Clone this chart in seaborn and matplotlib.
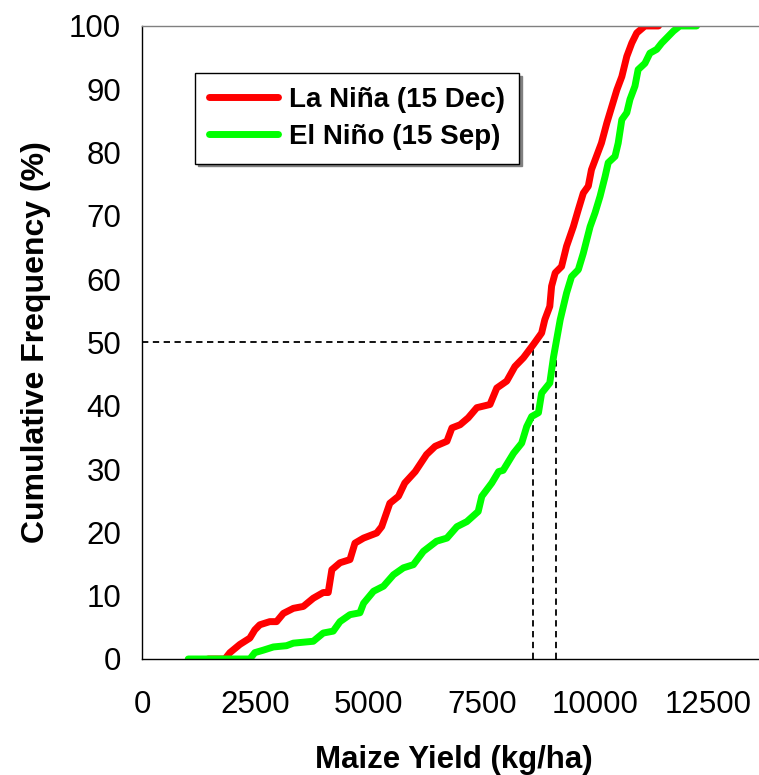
import pandas as pd
import matplotlib
matplotlib.use("Agg")
import matplotlib.pyplot as plt
import seaborn as sns

# --- datos ---
nina_label = "La Niña (15 Dec)"
nino_label = "El Niño (15 Sep)"

nina_yield = [1460, 1830, 1940, 2160, 2380, 2490, 2600, 2820, 2970, 3120, 3340, 3560,
              3780, 4000, 4110, 4190, 4370, 4590, 4700, 4890, 5180, 5290, 5470, 5660,
              5800, 6030, 6280, 6470, 6730, 6840, 7020, 7200, 7390, 7680, 7830, 8050,
              8230, 8420, 8640, 8820, 8890, 9000, 9040, 9120, 9260, 9370, 9520, 9630,
              9740, 9850, 9920, 10030, 10140, 10260, 10370, 10480, 10590, 10700, 10810,
              10920, 11100, 11400]
nina_freq = [0, 0, 1.0, 2.3, 3.3, 4.6, 5.4, 5.9, 5.9, 7.2, 8.0, 8.3,
             9.6, 10.5, 10.5, 14.1, 15.2, 15.7, 18.3, 19.1, 19.9, 20.9, 24.6, 25.7,
             27.8, 29.6, 32.3, 33.6, 34.4, 36.5, 37.0, 38.1, 39.7, 40.2, 42.8, 43.9,
             46.2, 47.6, 49.7, 51.5, 53.6, 55.7, 58.9, 61.0, 62.0, 65.2, 68.3, 71.0,
             73.6, 74.7, 77.3, 79.4, 81.5, 84.7, 87.3, 89.9, 92.0, 95.2, 97.3,
             98.9, 100, 100]

nino_yield = [1020, 2380, 2490, 2680, 2900, 3190, 3340, 3780, 4000, 4220, 4370, 4590,
              4810, 4890, 5110, 5330, 5550, 5770, 5990, 6210, 6500, 6730, 6950, 7170,
              7420, 7500, 7720, 7870, 7970, 8200, 8380, 8490, 8600, 8750, 8820, 9000,
              9080, 9140, 9230, 9370, 9480, 9630, 9740, 9890, 10000, 10110, 10220,
              10290, 10440, 10510, 10590, 10700, 10770, 10880, 10950, 11100, 11210,
              11360, 11470, 11580, 11730, 11870, 12240]
nino_freq = [0, 0, 1.0, 1.4, 1.9, 2.1, 2.5, 2.8, 4.1, 4.4, 5.9, 7.0,
             7.3, 8.8, 10.7, 11.5, 13.3, 14.4, 14.9, 17.0, 18.6, 19.1, 20.9, 21.7,
             23.3, 25.7, 27.8, 29.6, 29.8, 32.5, 34.1, 36.7, 38.3, 38.9, 42.0, 43.6,
             47.6, 50.0, 53.6, 57.8, 60.4, 61.5, 64.1, 68.3, 70.5, 73.1, 76.2,
             78.4, 79.4, 81.5, 85.2, 86.3, 88.4, 90.5, 93.1, 94.1, 95.7,
             96.3, 97.3, 98.1, 99.2, 100, 100]

# medianas (linea punteada)
median_nina = 8640
median_nino = 9140

x_ticks = [0, 2500, 5000, 7500, 10000, 12500]
y_ticks = list(range(0, 101, 10))

df = pd.concat([
    pd.DataFrame({"yield": nina_yield, "freq": nina_freq, "serie": nina_label}),
    pd.DataFrame({"yield": nino_yield, "freq": nino_freq, "serie": nino_label}),
], ignore_index=True)

sns.set_style("white")
plt.rcParams["font.family"] = ["Liberation Sans", "DejaVu Sans"]
plt.rcParams["text.color"] = "black"
plt.rcParams["axes.labelcolor"] = "black"

fig = plt.figure(figsize=(7.59, 7.75), dpi=100)
ax = fig.add_axes([0.1871, 0.1497, 0.8208, 0.8168])

sns.lineplot(data=df, x="yield", y="freq", hue="serie", sort=False, estimator=None,
             palette={nina_label: "#ff0000", nino_label: "#00ff00"},
             linewidth=5, solid_capstyle="round", solid_joinstyle="round", ax=ax)

# lineas de referencia al 50 %
dash = dict(color="black", linewidth=1.3, linestyle=(0, (3.5, 2.5)), zorder=1)
ax.plot([0, median_nino], [50, 50], **dash)
ax.plot([median_nina, median_nina], [0, 50], **dash)
ax.plot([median_nino, median_nino], [0, 50], **dash)

ax.set_xlim(0, 13750)
ax.set_ylim(0, 100)
ax.set_xticks(x_ticks)
ax.set_yticks(y_ticks)
ax.tick_params(axis="both", direction="out", length=8, width=1, color="#444444",
               labelcolor="black", labelsize=22.5, pad=7)
ax.tick_params(axis="x", pad=14)

for s in ["left", "bottom"]:
    ax.spines[s].set_color("black")
    ax.spines[s].set_linewidth(1)
ax.spines["top"].set_color("#808080")
ax.spines["top"].set_linewidth(1)
ax.spines["right"].set_visible(False)

ax.set_xlabel("Maize Yield (kg/ha)", fontsize=22.5, fontweight="bold", labelpad=18)
ax.set_ylabel("Cumulative Frequency (%)", fontsize=23, fontweight="bold", labelpad=13)

leg = ax.legend(loc="upper left", bbox_to_anchor=(0.085, 0.926), frameon=True,
                fancybox=False, framealpha=1, edgecolor="black", borderpad=0.5,
                handlelength=2.5, handletextpad=0.4, labelspacing=0.4,
                borderaxespad=0,
                prop={"weight": "bold", "size": 20},
                shadow={"color": "#808080", "alpha": 1, "ox": 2, "oy": -2})
leg.get_frame().set_linewidth(1)
for h in leg.get_lines():
    h.set_linewidth(5)
    h.set_solid_capstyle("round")

fig.savefig("out.png", dpi=100)
